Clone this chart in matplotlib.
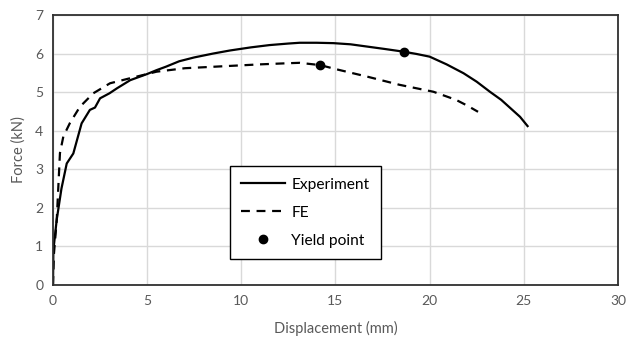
import matplotlib.pyplot as plt

# experiment curve
exp_x = [0, 0.02, 0.2, 0.45, 0.73, 1.08, 1.3, 1.52, 1.96, 2.23, 2.5, 3.0, 3.4, 4.1, 5.0, 5.5,
         6.0, 6.7, 7.5, 8.5, 9.4, 10.5, 11.5, 12.5, 13.1, 14.0, 14.9, 15.8, 16.7, 17.6,
         18.6, 19.3, 20.0, 20.9, 21.8, 22.5, 23.2, 23.8, 24.3, 24.8, 25.2]
exp_y = [0, 0.9, 1.7, 2.5, 3.15, 3.41, 3.8, 4.19, 4.54, 4.6, 4.84, 4.97, 5.1, 5.31, 5.47, 5.57,
         5.66, 5.8, 5.9, 6.0, 6.08, 6.16, 6.22, 6.26, 6.28, 6.28, 6.27, 6.24, 6.18, 6.12,
         6.05, 5.99, 5.92, 5.72, 5.49, 5.27, 5.01, 4.8, 4.58, 4.36, 4.12]

# FE curve
fe_x = [0, 0.05, 0.2, 0.37, 0.55, 0.9, 1.43, 2.14, 3.03, 4.09, 5.5, 7.0, 9.4, 11.0, 12.5,
        13.1, 14.2, 15.07, 16.7, 18.4, 20.2, 21.4, 22.0, 22.57]
fe_y = [0, 0.8, 1.69, 3.42, 3.85, 4.2, 4.62, 4.97, 5.23, 5.36, 5.53, 5.62, 5.68, 5.72, 5.75,
        5.76, 5.70, 5.59, 5.40, 5.19, 5.01, 4.80, 4.65, 4.49]

# yield points
yield_x = [18.64, 14.18]
yield_y = [6.05, 5.70]

plt.rcParams['font.family'] = ['Lato', 'DejaVu Sans']

fig = plt.figure(figsize=(6.27, 3.4), dpi=100)
ax = fig.add_axes([0.0845, 0.1618, 0.9011, 0.7941])

ax.plot(exp_x, exp_y, color='black', lw=1.6, label='Experiment')
ax.plot(fe_x, fe_y, color='black', lw=1.6, ls=(0, (4, 3)), label='FE')
ax.plot(yield_x, yield_y, 'o', color='black', ms=6, ls='none', label='Yield point')

ax.set_xlim(0, 30)
ax.set_ylim(0, 7)
ax.set_xticks(range(0, 31, 5))
ax.set_yticks(range(0, 8))
ax.grid(True, color='#d9d9d9', lw=1)
ax.set_axisbelow(True)
ax.tick_params(length=0, labelsize=10, colors='#595959', pad=7)
for s in ax.spines.values():
    s.set_color('#303030')
    s.set_linewidth(1.3)

ax.set_xlabel('Displacement (mm)', fontsize=10.5, color='#595959', labelpad=10)
ax.set_ylabel('Force (kN)', fontsize=10.5, color='#595959', labelpad=7)

leg = ax.legend(loc='upper left', bbox_to_anchor=(0.313, 0.441), fontsize=11.2,
                frameon=True, fancybox=False, edgecolor='black', framealpha=1,
                handlelength=2.8, handletextpad=0.4, borderpad=0.75, labelspacing=0.9,
                borderaxespad=0)
leg.get_frame().set_linewidth(1.0)

fig.savefig('out.png', dpi=100)
